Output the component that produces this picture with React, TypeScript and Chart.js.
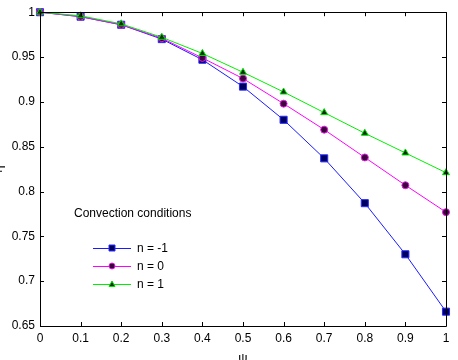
import React, { useEffect, useRef } from "react";
import { Chart, registerables } from "chart.js";

Chart.register(...registerables);

// ψ values along the horizontal axis
const psi = [0, 0.1, 0.2, 0.3, 0.4, 0.5, 0.6, 0.7, 0.8, 0.9, 1];

// η for each convection condition
const etaNMinus1 = [1, 0.995, 0.986, 0.970, 0.947, 0.917, 0.880, 0.837, 0.787, 0.730, 0.666];
const etaN0 = [1, 0.995, 0.986, 0.971, 0.949, 0.926, 0.898, 0.869, 0.838, 0.807, 0.777];
const etaN1 = [1, 0.996, 0.987, 0.972, 0.954, 0.933, 0.911, 0.888, 0.865, 0.843, 0.821];

const seriesLabels = ["n = -1", "n = 0", "n = 1"];
const legendTitle = "Convection conditions";

const xTicks = [0, 0.1, 0.2, 0.3, 0.4, 0.5, 0.6, 0.7, 0.8, 0.9, 1];
const yTicks = [0.65, 0.7, 0.75, 0.8, 0.85, 0.9, 0.95, 1];

const FONT = '"Liberation Sans", Arial, Helvetica, sans-serif';

const toPoints = (ys: number[]) => psi.map((x, i) => ({ x, y: ys[i] }));

// Box frame with inward ticks, axis titles and the in-plot legend
const framePlugin = {
  id: "frame",
  afterDraw(chart: any) {
    const { ctx, chartArea: a, scales } = chart;
    const xs = scales.x;
    const ys = scales.y;
    ctx.save();
    ctx.strokeStyle = "#000";
    ctx.lineWidth = 1;
    ctx.beginPath();
    ctx.rect(Math.round(a.left) + 0.5, Math.round(a.top) + 0.5, Math.round(a.right - a.left), Math.round(a.bottom - a.top));
    ctx.stroke();
    const tl = 4;
    ctx.beginPath();
    xTicks.forEach((v) => {
      const px = Math.round(xs.getPixelForValue(v)) + 0.5;
      ctx.moveTo(px, a.bottom);
      ctx.lineTo(px, a.bottom - tl);
      ctx.moveTo(px, a.top);
      ctx.lineTo(px, a.top + tl);
    });
    yTicks.forEach((v) => {
      const py = Math.round(ys.getPixelForValue(v)) + 0.5;
      ctx.moveTo(a.left, py);
      ctx.lineTo(a.left + tl, py);
      ctx.moveTo(a.right, py);
      ctx.lineTo(a.right - tl, py);
    });
    ctx.stroke();

    // axis titles (they sit at the canvas edges and are partly clipped)
    ctx.fillStyle = "#000";
    ctx.font = `13px ${FONT}`;
    ctx.textAlign = "center";
    ctx.textBaseline = "top";
    ctx.fillText("ψ", (a.left + a.right) / 2, 352);
    ctx.save();
    ctx.translate(2, (a.top + a.bottom) / 2);
    ctx.rotate(-Math.PI / 2);
    ctx.textBaseline = "alphabetic";
    ctx.fillText("η", 0, 0);
    ctx.restore();

    // legend
    ctx.font = `12px ${FONT}`;
    ctx.textAlign = "left";
    ctx.textBaseline = "middle";
    ctx.fillText(legendTitle, 74, 214);
    chart.data.datasets.forEach((ds: any, i: number) => {
      const y = 248 + i * 18;
      ctx.strokeStyle = ds.borderColor;
      ctx.lineWidth = 1;
      ctx.beginPath();
      ctx.moveTo(93, y + 0.5);
      ctx.lineTo(131, y + 0.5);
      ctx.stroke();
      ctx.fillStyle = ds.pointBackgroundColor;
      ctx.strokeStyle = ds.pointBorderColor;
      ctx.beginPath();
      const cx = 112;
      if (ds.pointStyle === "rect") {
        ctx.rect(cx - 3, y - 3, 6, 6);
      } else if (ds.pointStyle === "circle") {
        ctx.arc(cx, y, 3, 0, Math.PI * 2);
      } else {
        ctx.moveTo(cx, y - 3);
        ctx.lineTo(cx + 3, y + 2.5);
        ctx.lineTo(cx - 3, y + 2.5);
        ctx.closePath();
      }
      ctx.fill();
      ctx.stroke();
      ctx.fillStyle = "#000";
      ctx.fillText(ds.label, 137, y + 0.5);
    });
    ctx.restore();
  },
};

export default function App() {
  const ref = useRef<HTMLCanvasElement | null>(null);

  useEffect(() => {
    document.body.style.margin = "0";
    const canvas = ref.current;
    if (!canvas) return;
    const chart = new Chart(canvas, {
      type: "line",
      data: {
        datasets: [
          {
            label: seriesLabels[0],
            data: toPoints(etaNMinus1),
            borderColor: "#1a1aff",
            backgroundColor: "#000060",
            pointBackgroundColor: "#000060",
            pointBorderColor: "#2a2aff",
            pointStyle: "rect",
            pointRadius: 5,
            pointBorderWidth: 1,
            borderWidth: 1,
            order: 2,
            clip: false,
          } as any,
          {
            label: seriesLabels[1],
            data: toPoints(etaN0),
            borderColor: "#ff00ff",
            backgroundColor: "#400040",
            pointBackgroundColor: "#400040",
            pointBorderColor: "#e020e0",
            pointStyle: "circle",
            pointRadius: 3.5,
            pointBorderWidth: 1,
            borderWidth: 1,
            order: 1,
            clip: false,
          },
          {
            label: seriesLabels[2],
            data: toPoints(etaN1),
            borderColor: "#00ee00",
            backgroundColor: "#003000",
            pointBackgroundColor: "#003000",
            pointBorderColor: "#00dd00",
            pointStyle: "triangle",
            pointRadius: 4,
            pointBorderWidth: 1,
            borderWidth: 1,
            order: 0,
            clip: false,
          },
        ],
      },
      options: {
        animation: false,
        responsive: false,
        devicePixelRatio: 1,
        layout: { padding: { top: 8, right: 12, left: 0, bottom: 0 } },
        plugins: { legend: { display: false }, tooltip: { enabled: false } },
        elements: { line: { tension: 0 } },
        scales: {
          x: {
            type: "linear",
            min: 0,
            max: 1,
            grid: { display: false, drawTicks: false },
            border: { display: false },
            afterBuildTicks: (s: any) => {
              s.ticks = xTicks.map((v) => ({ value: v }));
            },
            afterFit: (s: any) => {
              s.height = 34;
            },
            ticks: {
              padding: 5,
              color: "#000",
              font: { family: FONT, size: 12 },
              maxRotation: 0,
              callback: (v: any) => String(Number(v)),
            },
          },
          y: {
            type: "linear",
            min: 0.65,
            max: 1,
            grid: { display: false, drawTicks: false },
            border: { display: false },
            afterBuildTicks: (s: any) => {
              s.ticks = yTicks.map((v) => ({ value: v }));
            },
            afterFit: (s: any) => {
              s.width = 40;
            },
            ticks: {
              padding: 5,
              color: "#000",
              font: { family: FONT, size: 12 },
              callback: (v: any) => String(Number(Number(v).toFixed(2))),
            },
          },
        },
      },
      plugins: [framePlugin],
    });
    return () => chart.destroy();
  }, []);

  return (
    <div style={{ width: 458, height: 360 }}>
      <canvas ref={ref} width={458} height={360} style={{ display: "block" }} />
    </div>
  );
}
